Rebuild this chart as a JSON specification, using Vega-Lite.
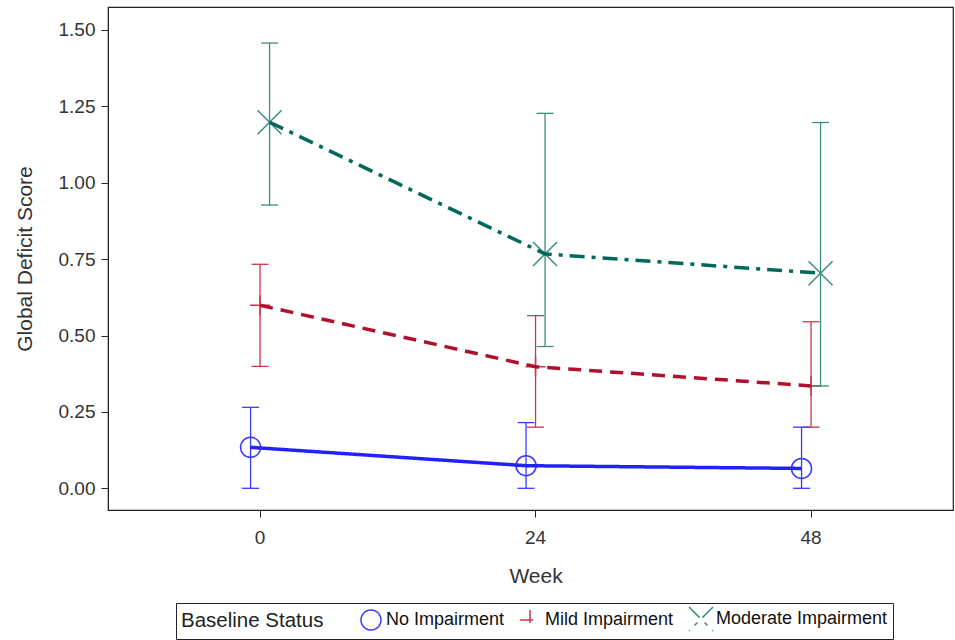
{
  "$schema": "https://vega.github.io/schema/vega-lite/v6.json",
  "autosize": "none",
  "width": 845,
  "height": 503,
  "padding": {"left": 108, "top": 7, "right": 2, "bottom": 130},
  "background": "white",
  "config": {
    "view": {"stroke": "#222", "strokeWidth": 1.2},
    "font": "Liberation Sans",
    "axis": {"domainColor": "#222", "tickColor": "#222", "labelColor": "#333", "titleColor": "#333", "grid": false, "labelFontSize": 19, "titleFontSize": 21, "titleFontWeight": "normal", "tickSize": 7}
  },
  "data": {
    "values": [
      {"Status": "No Impairment", "Week": 0, "Mean": 0.134, "Lower": 0.0, "Upper": 0.265},
      {"Status": "No Impairment", "Week": 24, "Mean": 0.074, "Lower": 0.0, "Upper": 0.215},
      {"Status": "No Impairment", "Week": 48, "Mean": 0.065, "Lower": 0.0, "Upper": 0.2},
      {"Status": "Mild Impairment", "Week": 0, "Mean": 0.599, "Lower": 0.399, "Upper": 0.733},
      {"Status": "Mild Impairment", "Week": 24, "Mean": 0.398, "Lower": 0.2, "Upper": 0.565},
      {"Status": "Mild Impairment", "Week": 48, "Mean": 0.335, "Lower": 0.2, "Upper": 0.545},
      {"Status": "Moderate Impairment", "Week": 0, "Mean": 1.198, "Lower": 0.927, "Upper": 1.457},
      {"Status": "Moderate Impairment", "Week": 24, "Mean": 0.767, "Lower": 0.464, "Upper": 1.227},
      {"Status": "Moderate Impairment", "Week": 48, "Mean": 0.704, "Lower": 0.335, "Upper": 1.197}
    ]
  },
  "encoding": {
    "x": {"field": "Week", "type": "ordinal", "scale": {"type": "band", "domain": [0, 24, 48], "range": [14.3, 840.8], "paddingInner": 0, "paddingOuter": 0},
      "axis": {"title": "Week", "labelAngle": 0, "labelPadding": 11, "titlePadding": 18}},
    "xOffset": {"field": "Status", "type": "nominal", "scale": {"type": "point", "domain": ["No Impairment", "Mild Impairment", "Moderate Impairment"], "range": [128.25, 147.25], "padding": 0}},
    "y": {"field": "Mean", "type": "quantitative", "scale": {"domain": [-0.071, 1.575], "nice": false, "zero": false},
      "axis": {"values": [0, 0.25, 0.5, 0.75, 1, 1.25, 1.5], "format": ".2f", "title": "Global Deficit Score", "labelPadding": 6, "titlePadding": 23}}
  },
  "layer": [
    {
      "mark": {"type": "point", "filled": false, "strokeWidth": 1.5, "size": 400, "opacity": 1},
      "encoding": {
        "color": {"field": "Status", "type": "nominal",
          "scale": {"domain": ["No Impairment", "Mild Impairment", "Moderate Impairment"], "range": ["#3a3aff", "#c8374e", "#3a8f80"]},
          "legend": {"orient": "none", "legendX": 68, "legendY": 596, "direction": "horizontal", "title": "Baseline Status", "titleOrient": "left", "titleFont": "Liberation Sans", "titleFontSize": 20.5, "titleFontWeight": "normal", "titleColor": "#222", "labelFont": "Liberation Sans", "labelFontSize": 18, "labelColor": "#111", "labelLimit": 400, "strokeColor": "#222", "padding": 5, "symbolSize": 400, "symbolStrokeWidth": 1.5, "symbolFillColor": "transparent", "columnPadding": 12, "titlePadding": 36, "labelOffset": 4, "titleBaseline": "middle", "titleAnchor": "middle",
            "encode": {"symbols": {"update": {"strokeDash": {"value": [1, 0]}, "fill": {"value": "transparent"}}}}}},
        "shape": {"field": "Status", "type": "nominal", "scale": {"domain": ["No Impairment", "Mild Impairment", "Moderate Impairment"], "range": ["circle", "M-1,0L1,0M0,-1L0,1", "M-1.2,-1.2L1.2,1.2M1.2,-1.2L-1.2,1.2"]}}
      }
    },
    {
      "mark": {"type": "rule", "strokeWidth": 1.3},
      "encoding": {
        "y": {"field": "Lower", "type": "quantitative"},
        "y2": {"field": "Upper"},
        "color": {"field": "Status", "type": "nominal"}
      }
    },
    {
      "mark": {"type": "point", "shape": "M-1,0L1,0", "size": 289, "filled": false, "strokeWidth": 1.3, "opacity": 1},
      "encoding": {
        "y": {"field": "Lower", "type": "quantitative"},
        "color": {"field": "Status", "type": "nominal"}
      }
    },
    {
      "mark": {"type": "point", "shape": "M-1,0L1,0", "size": 289, "filled": false, "strokeWidth": 1.3, "opacity": 1},
      "encoding": {
        "y": {"field": "Upper", "type": "quantitative"},
        "color": {"field": "Status", "type": "nominal"}
      }
    },
    {
      "mark": {"type": "line", "strokeWidth": 3.5},
      "encoding": {
        "stroke": {"field": "Status", "type": "nominal", "legend": null, "scale": {"domain": ["No Impairment", "Mild Impairment", "Moderate Impairment"], "range": ["#2222ff", "#b0102c", "#00695a"]}},
        "strokeDash": {"field": "Status", "type": "nominal", "legend": null, "scale": {"domain": ["No Impairment", "Mild Impairment", "Moderate Impairment"], "range": [[1, 0], [13, 8], [15, 7, 4, 7]]}}
      }
    }
  ]
}
